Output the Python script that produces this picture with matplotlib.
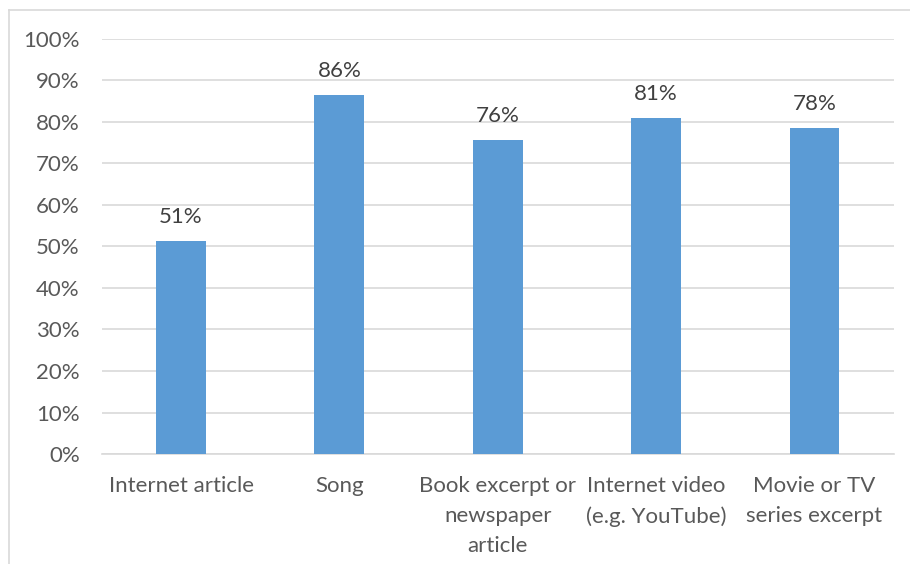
import matplotlib.pyplot as plt
from matplotlib.lines import Line2D
from matplotlib.ticker import MultipleLocator, PercentFormatter

categories = ['Internet article', 'Song', 'Book excerpt or\nnewspaper\narticle',
              'Internet video\n(e.g. YouTube)', 'Movie or TV\nseries excerpt']
values = [0.513, 0.865, 0.757, 0.810, 0.785]
labels = ['51%', '86%', '76%', '81%', '78%']

plt.rcParams['font.family'] = ['Lato', 'DejaVu Sans']

fig = plt.figure(figsize=(9.1, 5.64), dpi=100)
ax = fig.add_axes([0.112, 0.195, 0.870, 0.736])

x = list(range(len(categories)))
bars = ax.bar(x, values, width=0.315, color='#5b9bd5', zorder=3)

for b, lab in zip(bars, labels):
    ax.annotate(lab, (b.get_x() + b.get_width() / 2, b.get_height()),
                xytext=(0, 10), textcoords='offset points', ha='center', va='bottom',
                fontsize=16, color='#404040')

ax.set_xlim(-0.5, len(categories) - 0.5)
ax.set_ylim(0, 1.0)
ax.yaxis.set_major_locator(MultipleLocator(0.1))
ax.yaxis.set_major_formatter(PercentFormatter(1.0, decimals=0))
ax.grid(axis='y', color='#d9d9d9', linewidth=1.2, zorder=0)
ax.set_xticks(x)
ax.set_xticklabels(categories, fontsize=16, color='#595959', linespacing=1.62, va='top')
ax.tick_params(axis='y', labelsize=16, labelcolor='#595959', length=0, pad=16)
ax.tick_params(axis='x', length=0, pad=16)
for s in ['top', 'right', 'left']:
    ax.spines[s].set_visible(False)
ax.spines['bottom'].set_color('#d9d9d9')
ax.spines['bottom'].set_linewidth(1.2)

# chart border (only top and left visible in the crop)
fig.add_artist(Line2D([9 / 910, 1.0], [1 - 10 / 564, 1 - 10 / 564], color='#d9d9d9', lw=1.2))
fig.add_artist(Line2D([9 / 910, 9 / 910], [0, 1 - 10 / 564], color='#d9d9d9', lw=1.2))

fig.savefig('out.png', dpi=100)
